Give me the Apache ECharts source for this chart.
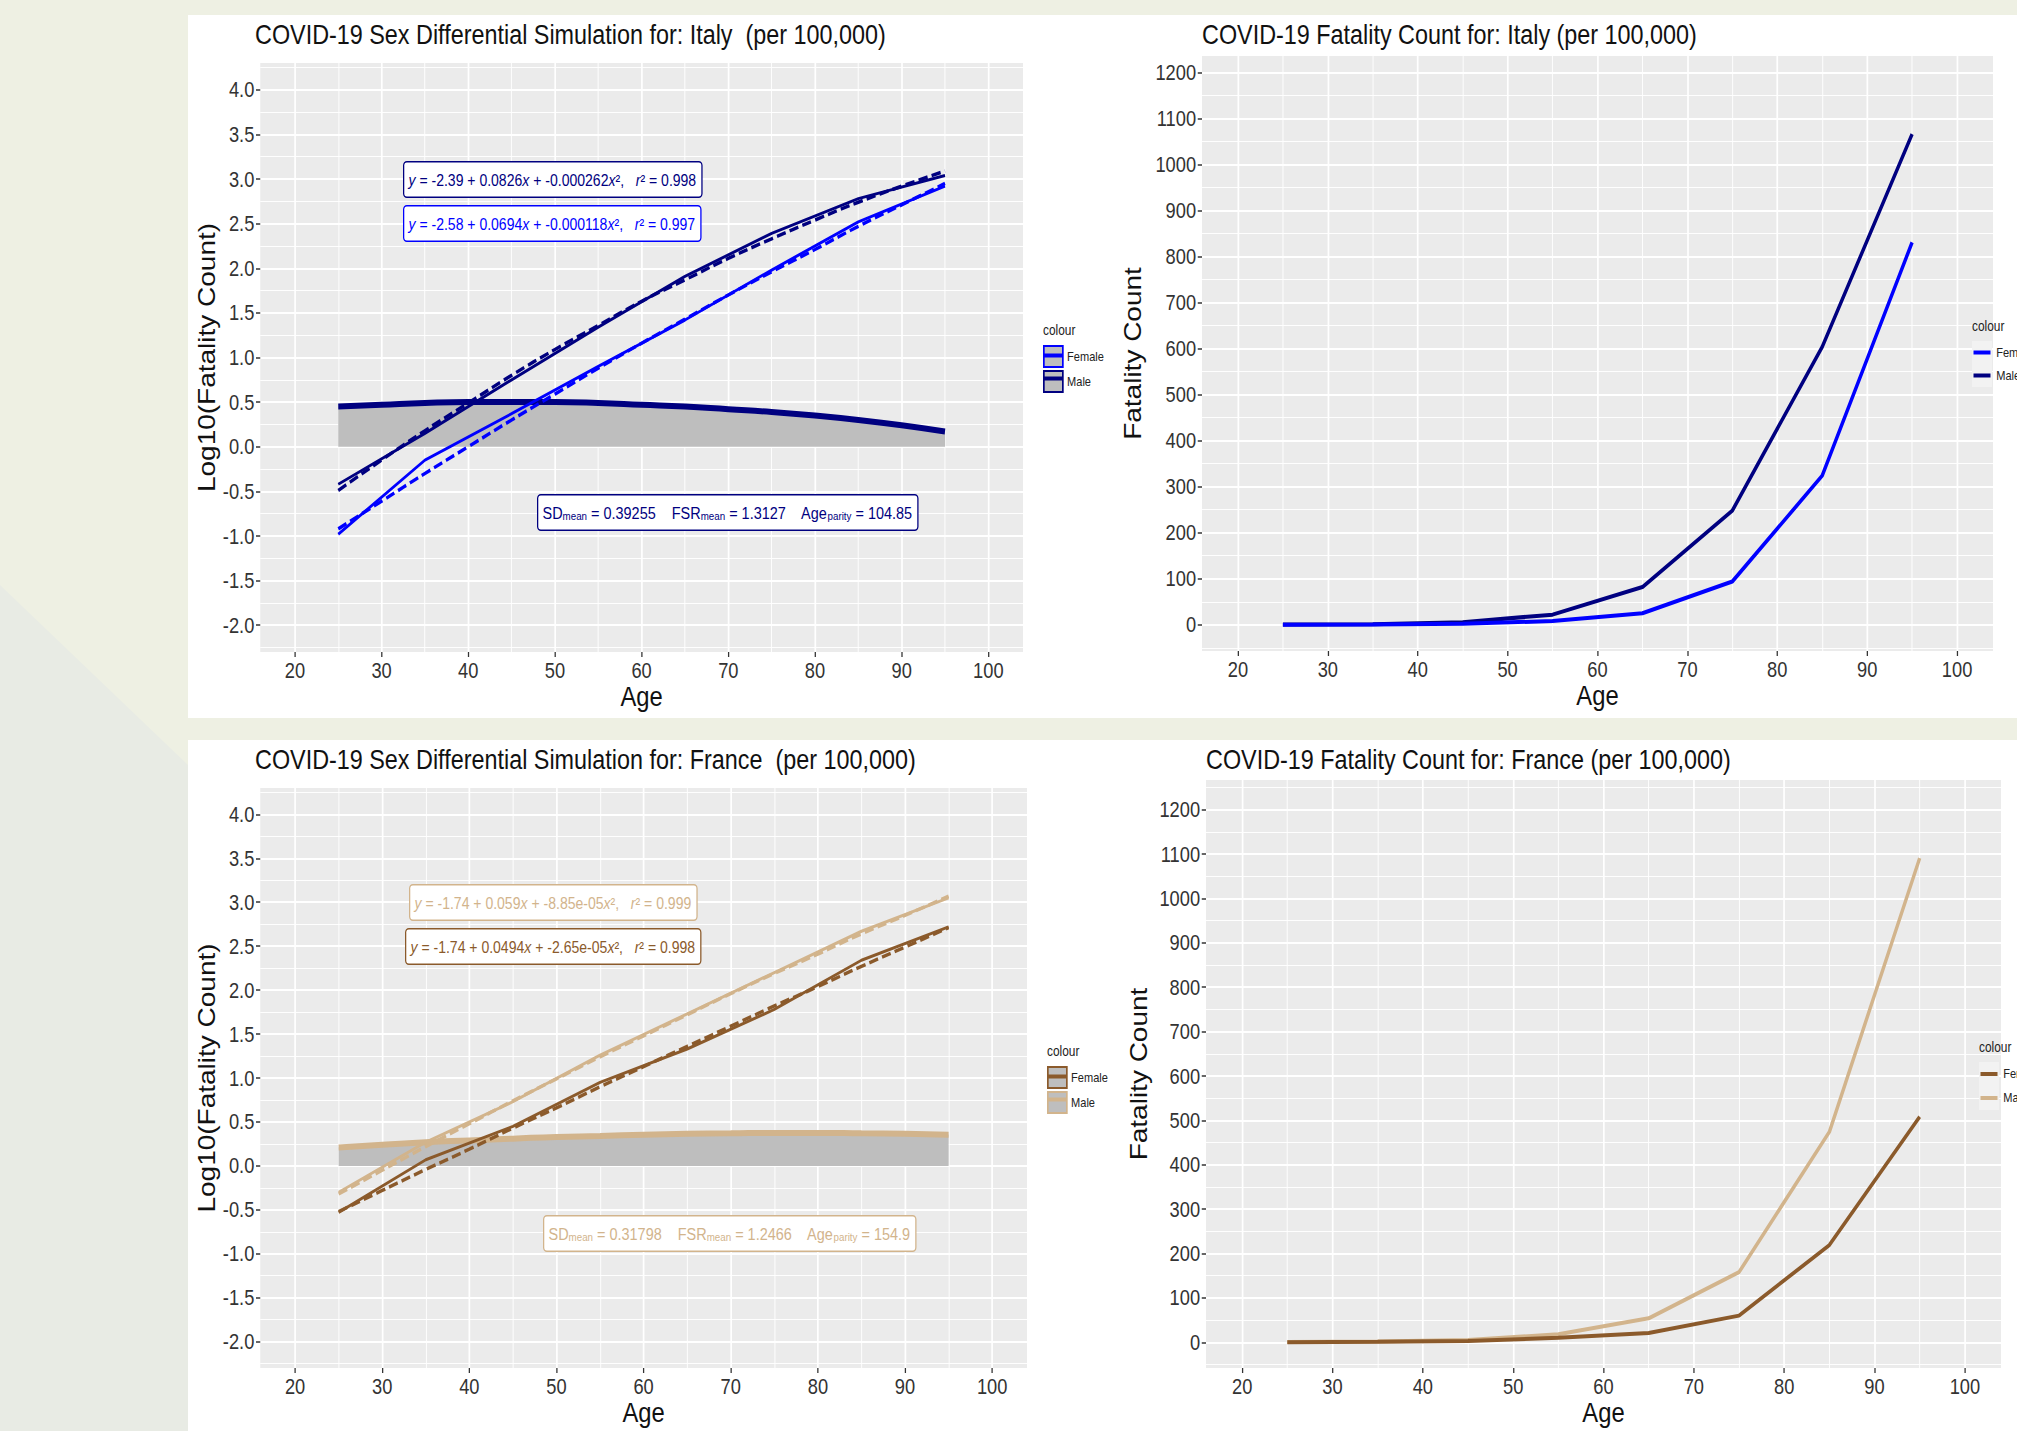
<!DOCTYPE html>
<html>
<head>
<meta charset="utf-8">
<script src="https://cdn.jsdelivr.net/npm/echarts@6/dist/echarts.min.js"></script>
<style>
	body { margin: 0; width: 2017px; height: 1431px; background: #eef0e3; position: relative; overflow: hidden; }
	.shade { position: absolute; left: 0; top: 0; width: 188px; height: 1431px; background: #e8ebe4; clip-path: polygon(0 585px, 188px 765px, 188px 1431px, 0 1431px); }
	.band { position: absolute; left: 188px; width: 1829px; background: #fff; }
	/* the source plots were squeezed sideways, so every chart is drawn wide and squeezed back */
	.chart { position: absolute; transform: scaleX(0.85); transform-origin: 0 0; }
</style>
</head>
<body>
<div class="shade"></div>
<div class="band" style="top:15px;height:703px"></div>
<div class="band" style="top:740px;height:691px"></div>
<div id="chartOne" class="chart" style="left:188px;top:15px;width:calc(960px / 0.85);height:703px"></div>
<div id="chartTwo" class="chart" style="left:1110px;top:15px;width:calc(907px / 0.85);height:703px"></div>
<div id="chartThree" class="chart" style="left:188px;top:740px;width:calc(960px / 0.85);height:691px"></div>
<div id="chartFour" class="chart" style="left:1110px;top:740px;width:calc(907px / 0.85);height:691px"></div>
<script>
const K = 0.85
const sx = (v) => v / K
const FONT = '"Liberation Sans", Arial, sans-serif'

const ages = [25, 35, 45, 55, 65, 75, 85, 95]
const fitAges = [25, 30, 35, 40, 45, 50, 55, 60, 65, 70, 75, 80, 85, 90, 95]

// tick labels
const ageTicks = [20, 30, 40, 50, 60, 70, 80, 90, 100]
const ageMinorTicks = [25, 35, 45, 55, 65, 75, 85, 95]
const logTicks = [-2, -1.5, -1, -0.5, 0, 0.5, 1, 1.5, 2, 2.5, 3, 3.5, 4]
const logMinorTicks = [-2.25, -1.75, -1.25, -0.75, -0.25, 0.25, 0.75, 1.25, 1.75, 2.25, 2.75, 3.25, 3.75, 4.25]
const countTicks = [0, 100, 200, 300, 400, 500, 600, 700, 800, 900, 1000, 1100, 1200]
const countMinorTicks = [-50, 50, 150, 250, 350, 450, 550, 650, 750, 850, 950, 1050, 1150, 1250]

// Italy
const italyMaleLog = [-0.42, 0.15, 0.75, 1.34, 1.91, 2.39, 2.78, 3.04]
const italyFemaleLog = [-0.98, -0.15, 0.37, 0.90, 1.42, 1.98, 2.52, 2.92]
const italyMaleFit = [-0.49, -0.15, 0.18, 0.49, 0.80, 1.09, 1.36, 1.63, 1.87, 2.11, 2.33, 2.54, 2.74, 2.92, 3.09]
const italyFemaleFit = [-0.92, -0.61, -0.30, 0.00, 0.30, 0.59, 0.88, 1.16, 1.43, 1.70, 1.96, 2.21, 2.47, 2.71, 2.95]
const italyGap = [0.45, 0.47, 0.49, 0.50, 0.50, 0.50, 0.49, 0.47, 0.45, 0.42, 0.39, 0.35, 0.30, 0.24, 0.17]
const italyMaleCount = [0.4, 1.4, 5.6, 22, 82, 248, 604, 1066]
const italyFemaleCount = [0.1, 0.7, 2.3, 8, 25, 94, 324, 831]

// France
const franceMaleLog = [-0.30, 0.27, 0.73, 1.26, 1.73, 2.20, 2.67, 3.05]
const franceFemaleLog = [-0.53, 0.07, 0.45, 0.95, 1.33, 1.78, 2.34, 2.72]
const franceMaleFit = [-0.32, -0.05, 0.22, 0.48, 0.74, 0.99, 1.24, 1.48, 1.72, 1.96, 2.19, 2.41, 2.64, 2.85, 3.07]
const franceFemaleFit = [-0.52, -0.28, -0.04, 0.19, 0.43, 0.66, 0.90, 1.13, 1.36, 1.59, 1.82, 2.04, 2.27, 2.49, 2.71]
const franceGap = [0.21, 0.24, 0.27, 0.29, 0.31, 0.33, 0.34, 0.355, 0.365, 0.37, 0.375, 0.375, 0.37, 0.365, 0.355]
const franceMaleCount = [0.5, 1.9, 5, 18, 54, 158, 474, 1091]
const franceFemaleCount = [0.3, 1.2, 3, 10, 21, 60, 219, 508]

// annotation texts
const italyEquations = [
	'{i|y} = -2.39 + 0.0826{i|x} + -0.000262{i|x}²,   {i|r}² = 0.998',
	'{i|y} = -2.58 + 0.0694{i|x} + -0.000118{i|x}²,   {i|r}² = 0.997',
]
const italyStats = 'SD{s|mean} = 0.39255    FSR{s|mean} = 1.3127    Age{s|parity} = 104.85'
const franceEquations = [
	'{i|y} = -1.74 + 0.059{i|x} + -8.85e-05{i|x}²,   {i|r}² = 0.999',
	'{i|y} = -1.74 + 0.0494{i|x} + -2.65e-05{i|x}²,   {i|r}² = 0.998',
]
const franceStats = 'SD{s|mean} = 0.31798    FSR{s|mean} = 1.2466    Age{s|parity} = 154.9'

const pairs = (xs, ys) => xs.map((x, i) => [x, ys[i]])

majorAxis = (min, max, ticks, name, gap, fmt) => ({
	type: 'value',
	min: min,
	max: max,
	name: name,
	nameLocation: 'middle',
	nameGap: gap,
	nameMoveOverlap: false,
	nameTextStyle: { fontFamily: FONT, fontSize: 28, color: '#111' },
	axisLine: { show: false, onZero: false },
	axisTick: { show: true, length: 5, customValues: ticks, lineStyle: { color: '#333', width: 1.5 } },
	axisLabel: { customValues: ticks, margin: 7, fontFamily: FONT, fontSize: 21.5, color: '#333', formatter: fmt },
	splitLine: { show: true, lineStyle: { color: '#fff', width: 2 } },
})

minorAxis = (min, max, ticks) => ({
	type: 'value',
	min: min,
	max: max,
	axisLine: { show: false, onZero: false },
	axisTick: { show: false, customValues: ticks },
	axisLabel: { show: false },
	splitLine: { show: true, lineStyle: { color: '#fff', width: 1 } },
})

ageAxes = () => [
	majorAxis(16, 104, ageTicks, 'Age', 30, (v) => String(v)),
	minorAxis(16, 104, ageMinorTicks),
]

// ggplot style legend: key boxes, then a stripe legend laid on top of them
keyLegends = (c, keyFill, keyBorder, keyW, stripeW, stripeDx) => [
	{
		data: [
			{ name: 'Female', itemStyle: { color: keyFill, borderColor: keyBorder ? c.female : keyFill, borderWidth: keyBorder ? 2 : 0 } },
			{ name: 'Male', itemStyle: { color: keyFill, borderColor: keyBorder ? c.male : keyFill, borderWidth: keyBorder ? 2 : 0 } },
		],
		orient: 'vertical',
		left: sx(c.legendLeft),
		top: c.legendTop,
		padding: 0,
		icon: 'rect',
		itemWidth: sx(keyW),
		itemHeight: c.keyH,
		itemGap: c.keyGap,
		selectedMode: false,
		textStyle: { fontFamily: FONT, fontSize: 13, color: '#222' },
	},
	{
		data: [
			{ name: 'Female', itemStyle: { color: c.female } },
			{ name: 'Male', itemStyle: { color: c.male } },
		],
		orient: 'vertical',
		left: sx(c.legendLeft + stripeDx),
		top: c.legendTop + c.keyH / 2 - 2,
		padding: 0,
		icon: 'rect',
		itemWidth: sx(stripeW),
		itemHeight: 4,
		itemGap: c.keyH + c.keyGap - 4,
		selectedMode: false,
		textStyle: { fontSize: 1, color: 'rgba(0,0,0,0)' },
	},
]

noteBox = (pos, text, color, size) => ({
	type: 'text',
	left: sx(pos[0]),
	top: pos[1],
	z: 100,
	style: {
		text: text,
		fill: color,
		fontFamily: FONT,
		fontSize: size,
		rich: {
			i: { fontStyle: 'italic', fontFamily: FONT, fontSize: size, fill: color },
			s: { fontFamily: FONT, fontSize: 11.5, fill: color, verticalAlign: 'bottom', lineHeight: 10 },
		},
		backgroundColor: '#fff',
		borderColor: color,
		borderWidth: 1.5,
		borderRadius: 3,
		padding: [9, 6, 8, 5],
	},
})

titles = (c, left) => [
	{ text: c.title, left: sx(left), top: 5, padding: 0, textStyle: { fontFamily: FONT, fontSize: 27.5, fontWeight: 'normal', color: '#111' } },
	{ text: 'colour', left: sx(c.legendLeft), top: c.legendTop - 22, padding: 0, textStyle: { fontFamily: FONT, fontSize: 14, fontWeight: 'normal', color: '#222' } },
]

logChart = (id, c) => {
	var chart = echarts.init(document.getElementById(id), null, { renderer: 'svg' })

	const option = {
		animation: false,
		title: titles(c, 67),
		grid: { left: sx(67), top: c.gridTop, width: sx(c.gridWidth), height: c.gridHeight, show: true, backgroundColor: '#ebebeb', borderWidth: 0 },
		xAxis: ageAxes(),
		yAxis: [
			majorAxis(-2.3, 4.3, logTicks, 'Log10(Fatality Count)', 49, (v) => v.toFixed(1)),
			minorAxis(-2.3, 4.3, logMinorTicks),
		],
		legend: keyLegends(c, '#bebebe', true, 19, 19, 0),
		graphic: [
			noteBox(c.notes[0], c.equations[0], c.male, 16.5),
			noteBox(c.notes[1], c.equations[1], c.female, 16.5),
			noteBox(c.notes[2], c.stats, c.gapColor, 17),
		],
		series: [
			{
				name: 'gap', type: 'line', smooth: true, symbol: 'none', z: 2,
				data: pairs(fitAges, c.gap),
				lineStyle: { color: c.gapColor, width: 6 },
				areaStyle: { color: '#bebebe', opacity: 1 },
			},
			{
				name: 'Male', type: 'line', smooth: true, symbol: 'none', z: 3,
				data: pairs(fitAges, c.maleFit),
				lineStyle: { color: c.male, width: 3.5, type: [11, 5] },
			},
			{
				name: 'Female', type: 'line', smooth: true, symbol: 'none', z: 3,
				data: pairs(fitAges, c.femaleFit),
				lineStyle: { color: c.female, width: 3.5, type: [11, 5] },
			},
			{
				name: 'Male', type: 'line', symbol: 'none', z: 4,
				data: pairs(ages, c.maleLog),
				lineStyle: { color: c.male, width: 3 },
			},
			{
				name: 'Female', type: 'line', symbol: 'none', z: 4,
				data: pairs(ages, c.femaleLog),
				lineStyle: { color: c.female, width: 3 },
			},
		],
	}

	chart.setOption(option)
}

countChart = (id, c) => {
	var chart = echarts.init(document.getElementById(id), null, { renderer: 'svg' })

	const option = {
		animation: false,
		title: titles(c, c.gridLeft),
		grid: { left: sx(c.gridLeft), top: c.gridTop, width: sx(c.gridWidth), height: c.gridHeight, show: true, backgroundColor: '#ebebeb', borderWidth: 0 },
		xAxis: ageAxes(),
		yAxis: [
			majorAxis(c.yMin, c.yMax, countTicks, 'Fatality Count', c.nameGap, (v) => String(v)),
			minorAxis(c.yMin, c.yMax, countMinorTicks),
		],
		legend: keyLegends(c, '#f2f2f2', false, 20, 17, 1.5),
		series: [
			{
				name: 'Male', type: 'line', symbol: 'none',
				data: pairs(ages, c.maleCount),
				lineStyle: { color: c.male, width: 4 },
			},
			{
				name: 'Female', type: 'line', symbol: 'none',
				data: pairs(ages, c.femaleCount),
				lineStyle: { color: c.female, width: 4 },
			},
		],
	}

	chart.setOption(option)
}

charts = () => {
	logChart('chartOne', {
		title: 'COVID-19 Sex Differential Simulation for: Italy  (per 100,000)',
		gridTop: 48, gridWidth: 768, gridHeight: 589,
		female: '#0000ff', male: '#000080', gapColor: '#000080',
		maleLog: italyMaleLog, femaleLog: italyFemaleLog,
		maleFit: italyMaleFit, femaleFit: italyFemaleFit, gap: italyGap,
		equations: italyEquations, stats: italyStats,
		notes: [[215, 146], [215, 190], [349, 479]],
		legendLeft: 855, legendTop: 330, keyH: 21, keyGap: 2,
	})
	countChart('chartTwo', {
		title: 'COVID-19 Fatality Count for: Italy (per 100,000)',
		gridLeft: 92, gridTop: 41, gridWidth: 791, gridHeight: 595,
		yMin: -57, yMax: 1236, nameGap: 67,
		female: '#0000ff', male: '#000080',
		maleCount: italyMaleCount, femaleCount: italyFemaleCount,
		legendLeft: 862, legendTop: 326, keyH: 23, keyGap: 0,
	})
	logChart('chartThree', {
		title: 'COVID-19 Sex Differential Simulation for: France  (per 100,000)',
		gridTop: 48, gridWidth: 772, gridHeight: 583,
		female: '#8b5a2b', male: '#d2b48c', gapColor: '#d2b48c',
		maleLog: franceMaleLog, femaleLog: franceFemaleLog,
		maleFit: franceMaleFit, femaleFit: franceFemaleFit, gap: franceGap,
		equations: franceEquations, stats: franceStats,
		notes: [[221, 144], [217, 188], [355, 475]],
		legendLeft: 859, legendTop: 326, keyH: 21, keyGap: 2,
	})
	countChart('chartFour', {
		title: 'COVID-19 Fatality Count for: France (per 100,000)',
		gridLeft: 96, gridTop: 40, gridWidth: 795, gridHeight: 589,
		yMin: -58, yMax: 1267, nameGap: 65,
		female: '#8b5a2b', male: '#d2b48c',
		maleCount: franceMaleCount, femaleCount: franceFemaleCount,
		legendLeft: 869, legendTop: 322, keyH: 24, keyGap: 0,
	})
}

charts()
</script>
</body>
</html>
